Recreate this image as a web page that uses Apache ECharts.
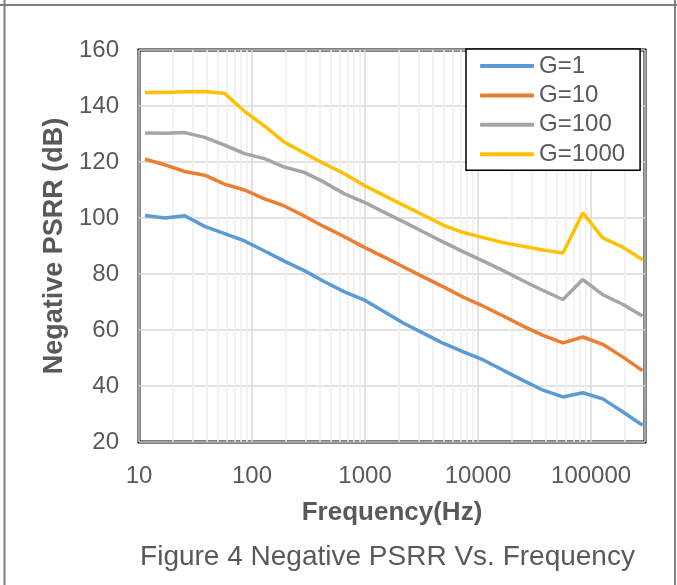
<!DOCTYPE html>
<html>
<head>
<meta charset="utf-8">
<script src="https://cdn.jsdelivr.net/npm/echarts@6/dist/echarts.min.js"></script>
<style>
html,body{margin:0;padding:0;background:#fff;}
#c{width:677px;height:585px;}
</style>
</head>
<body>
<div id="c"></div>
<script>
const freqs = [11.3, 17, 25.4, 38.1, 57.2, 85.8, 129, 193, 290, 434, 651, 977, 1466, 2199, 3298, 4947, 7421, 11131, 16697, 25045, 37568, 56352, 84528, 126792, 190188, 285282];
const g1 = [100.9, 100.0, 100.8, 97.0, 94.4, 91.8, 88.2, 84.6, 81.2, 77.3, 73.7, 70.8, 66.6, 62.4, 58.8, 55.2, 52.2, 49.3, 45.6, 42.0, 38.5, 36.1, 37.6, 35.4, 30.8, 26.0];
const g10 = [121.0, 119.0, 116.6, 115.3, 112.1, 110.0, 106.8, 104.3, 100.7, 96.9, 93.4, 89.6, 86.1, 82.5, 78.9, 75.4, 71.7, 68.5, 65.0, 61.4, 58.1, 55.4, 57.5, 54.9, 50.4, 45.5];
const g100 = [130.4, 130.3, 130.5, 128.8, 126.0, 123.0, 121.2, 118.2, 116.3, 112.8, 108.7, 105.7, 102.1, 98.6, 95.0, 91.4, 87.9, 84.6, 81.2, 77.6, 74.1, 70.9, 78.0, 72.6, 69.2, 65.0];
const g1000 = [144.8, 144.8, 145.1, 145.2, 144.5, 138.1, 132.8, 127.1, 123.2, 119.4, 115.9, 111.7, 108.1, 104.5, 101.0, 97.4, 94.8, 93.0, 91.2, 89.9, 88.6, 87.5, 101.8, 92.9, 89.6, 85.1];
const seriesNames = ['G=1', 'G=10', 'G=100', 'G=1000'];
const colors = ['#5B9BD5', '#ED7D31', '#A5A5A5', '#FFC000'];
const xMin = 10, xMax = 300000;
const yMin = 20, yMax = 160, yStep = 20;
const caption = 'Figure 4 Negative PSRR Vs. Frequency';

// minor log gridlines (2..9 of each decade)
const minorLines = [];
[10, 100, 1000, 10000, 100000].forEach(d => {
  for (let m = 2; m <= 9; m++) { if (d * m < xMax) minorLines.push({ xAxis: d * m }); }
});

const pair = arr => freqs.map((f, i) => [f, arr[i]]);
const all = [g1, g10, g100, g1000];
const FONT = '"Liberation Sans", Arial, sans-serif';

const chart = echarts.init(document.getElementById('c'));
chart.setOption({
  animation: false,
  backgroundColor: '#fff',
  textStyle: { fontFamily: FONT },
  grid: { left: 139, top: 50, width: 506, height: 392, show: true, borderColor: '#000', borderWidth: 3, backgroundColor: 'transparent', containLabel: false },
  xAxis: {
    type: 'log', logBase: 10, min: xMin, max: xMax,
    name: 'Frequency(Hz)', nameLocation: 'middle', nameGap: 58,
    nameTextStyle: { fontSize: 26, fontWeight: 'bold', color: '#595959', fontFamily: FONT },
    axisLine: { show: false }, axisTick: { show: false },
    axisLabel: { fontSize: 24, color: '#595959', margin: 22, fontFamily: FONT, formatter: v => String(Math.round(v)) },
    splitLine: { show: true, lineStyle: { color: '#d9d9d9', width: 1.5 } }
  },
  yAxis: {
    type: 'value', min: yMin, max: yMax, interval: yStep,
    name: 'Negative PSRR (dB)', nameLocation: 'middle', nameGap: 68,
    nameTextStyle: { fontSize: 27, fontWeight: 'bold', color: '#595959', fontFamily: FONT },
    axisLine: { show: false }, axisTick: { show: false },
    axisLabel: { fontSize: 24, color: '#595959', margin: 20, fontFamily: FONT },
    splitLine: { show: true, lineStyle: { color: '#d9d9d9', width: 1.5 } }
  },
  legend: {
    orient: 'vertical', left: 466, top: 49, z: 20,
    data: seriesNames,
    icon: 'roundRect', itemWidth: 54, itemHeight: 4, itemGap: 5.4,
    textStyle: { fontSize: 24, lineHeight: 24, color: '#595959', fontFamily: FONT },
    padding: [5, 15, 4, 14],
    backgroundColor: '#fff', borderColor: '#000', borderWidth: 1.5, borderRadius: 0
  },
  graphic: [
    { type: 'line', shape: { x1: 0, y1: 5, x2: 677, y2: 5 }, style: { stroke: '#7f7f7f', lineWidth: 2 } },
    { type: 'line', shape: { x1: 4.5, y1: 0, x2: 4.5, y2: 585 }, style: { stroke: '#7f7f7f', lineWidth: 2 } },
    { type: 'line', shape: { x1: 675, y1: 0, x2: 675, y2: 585 }, style: { stroke: '#7f7f7f', lineWidth: 2 } },
    { type: 'text', x: 387.5, y: 557, style: { text: caption, font: '28px ' + FONT, fill: '#595959', textAlign: 'center', textVerticalAlign: 'middle' } }
  ],
  series: [
    {
      type: 'line', name: '_minor', data: [], silent: true, z: 0,
      markLine: { silent: true, z: 0, symbol: ['none', 'none'], label: { show: false },
        lineStyle: { color: '#eeeeee', width: 1.5, type: 'solid' }, animation: false, data: minorLines }
    }
  ].concat(all.map((arr, i) => ({
    type: 'line', name: seriesNames[i], data: pair(arr), showSymbol: false, symbol: 'none',
    z: 10, lineStyle: { color: colors[i], width: 3.5 }, itemStyle: { color: colors[i] }
  })))
});
</script>
</body>
</html>
